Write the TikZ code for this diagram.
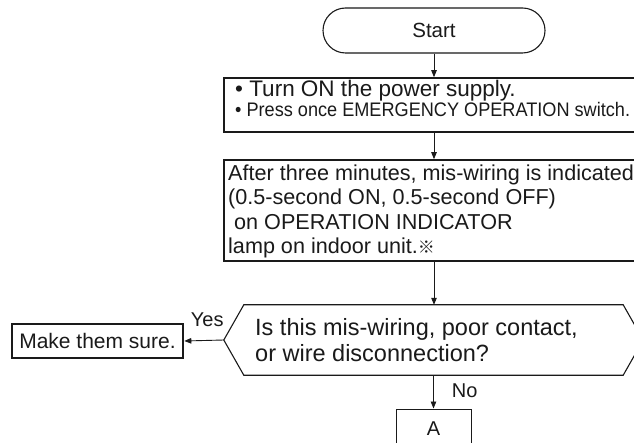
\documentclass[tikz,border=0pt]{standalone}
\usepackage{fontspec}
\setmainfont{Liberation Sans}
\newfontfamily\cjkjp{Noto Sans CJK JP}
\usetikzlibrary{arrows.meta}
\definecolor{ink}{HTML}{1A1A1A}
\tikzset{
  fsz/.style={font=\fontsize{#1}{#1}\selectfont},
  conn/.style={draw=ink, line width=0.9pt, -{Triangle[length=7pt,width=5.5pt]}},
  box/.style={draw=ink, rectangle, inner sep=0pt, text=ink},
  txt/.style={inner sep=0pt, anchor=base west, text=ink},
}
\begin{document}
\begin{tikzpicture}[x=1pt,y=-1pt]
\useasboundingbox (0,0) rectangle (634,443);
\clip (0,0) rectangle (634,443);
\fill[white] (0,0) rectangle (634,443);

% Start terminal
\node[box, line width=1.1pt, rounded corners=22.5pt, minimum width=222pt, minimum height=45pt, fsz=20.5] (start) at (434,30.5) {Start};

% Box 1
\node[box, line width=1.6pt, minimum width=456pt, minimum height=54pt] (box1) at (452,105) {};
\node[txt, fsz=22.5] (t1a) at (235,97) {• Turn ON the power supply.};
\node[txt, fsz=19.6] (t1b) at (235,117) {\scalebox{0.925}[1]{• Press once EMERGENCY OPERATION switch.}};

% Box 2
\node[box, line width=1.6pt, minimum width=456pt, minimum height=101pt] (box2) at (452,210.5) {};
\node[txt, fsz=21.6] (t2a) at (228,181) {After three minutes, mis-wiring is indicated};
\node[txt, fsz=21.6] (t2b) at (228,205) {(0.5-second ON, 0.5-second OFF)};
\node[txt, fsz=21.6] (t2c) at (228,230) {\ on OPERATION INDICATOR};
\node[txt, fsz=21.6] (t2d) at (228,254) {lamp on indoor unit.{\cjkjp\fontsize{17}{17}\selectfont ※}};

% Decision hexagon
\node[inner sep=0pt, minimum width=419pt, minimum height=70pt] (hex) at (433.5,340) {};
\draw[ink, line width=1.1pt] (hex.west) -- ([xshift=20pt]hex.north west) -- ([xshift=-20pt]hex.north east) -- (hex.east) -- ([xshift=-20pt]hex.south east) -- ([xshift=20pt]hex.south west) -- cycle;
\node[txt, fsz=23.5] (h1) at (255,335) {Is this mis-wiring, poor contact,};
\node[txt, fsz=23.5] (h2) at (255,361) {or wire disconnection?};

% Make them sure
\node[box, line width=2.6pt, minimum width=171pt, minimum height=34pt, fsz=21] (sure) at (97.5,341) {Make them sure.};

% A connector box
\node[box, line width=1pt, minimum width=75pt, minimum height=40pt, fsz=20] (A) at (433.5,429) {A};

% Connectors
\draw[conn] (start.south) -- (start.south |- box1.north);
\draw[conn] (start.south |- box1.south) -- (start.south |- box2.north);
\draw[conn] (start.south |- box2.south) -- (start.south |- hex.north);
\draw[conn] (hex.west) -- node[pos=0.42, anchor=base, yshift=14pt, inner sep=0pt, fsz=20, text=ink] {Yes} (sure.east);
\draw[conn] (hex.south) -- node[pos=0.68, anchor=base west, xshift=18pt, inner sep=0pt, fsz=20, text=ink] {No} (A.north);
\end{tikzpicture}
\end{document}
